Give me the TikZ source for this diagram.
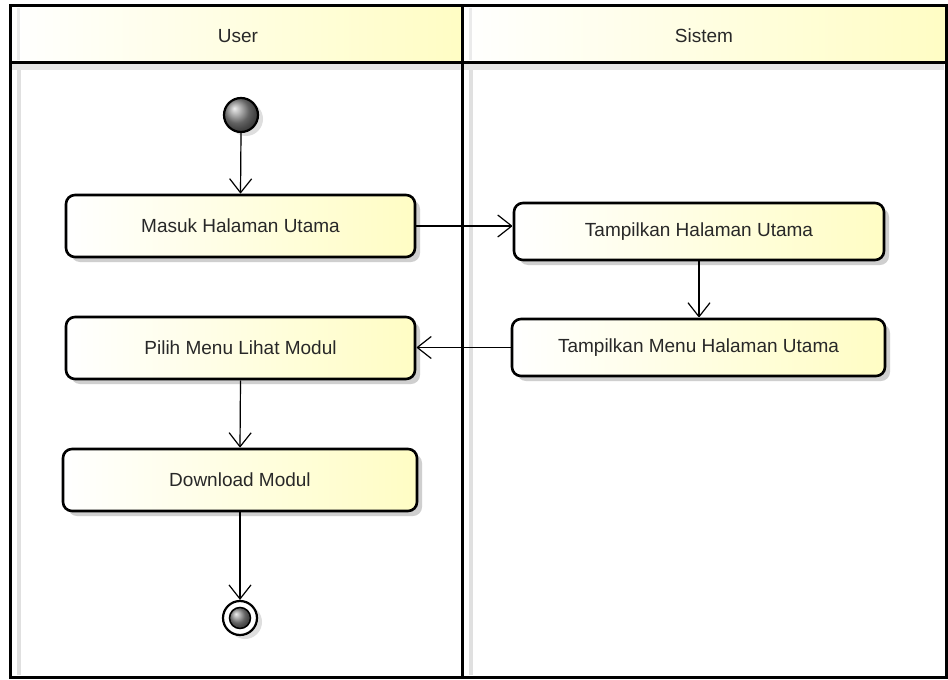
\documentclass[tikz,border=0pt]{standalone}
\usepackage{fontspec}
\setmainfont{Liberation Sans}
\usetikzlibrary{arrows.meta,shadows,calc}
\definecolor{umlyellow}{RGB}{255,253,196}
\definecolor{txtgray}{RGB}{40,40,40}
\tikzset{
  actbox/.style={draw=black, line width=2.6pt, rounded corners=9pt,
    left color=white, right color=umlyellow,
    drop shadow={shadow xshift=5pt, shadow yshift=-5pt, fill=black!25, opacity=0.75},
    font=\fontsize{19}{21}\selectfont, text=txtgray, inner sep=0pt},
  flow/.style={draw=black, line width=1.2pt, -{Straight Barb[length=14pt,width=22pt,line width=1.2pt]}},
  flowshadow/.style={draw=black!14, line width=1.2pt, xshift=4pt, yshift=-4pt},
  lane/.style={draw=black, line width=3pt},
  lanehead/.style={left color=white, right color=umlyellow, draw=none},
  lanelabel/.style={font=\fontsize{19}{21}\selectfont, text=txtgray},
  startnode/.style={circle, draw=black, line width=2.2pt, ball color=black!45, minimum size=34pt, inner sep=0pt,
    drop shadow={shadow xshift=5pt, shadow yshift=-4pt, fill=black!18, opacity=0.7}},
}
\begin{document}
\begin{tikzpicture}[x=1pt,y=-1pt]
\useasboundingbox (0,0) rectangle (948,680);
\fill[white] (0,0) rectangle (948,680);
% lane headers
\shade[lanehead] (10,5) rectangle (462,62);
\shade[lanehead] (462,5) rectangle (946,62);
% frame shadows
\fill[black!12] (17,64) rectangle (21,675);
\fill[black!12] (469,64) rectangle (473,675);
\fill[black!10] (12,64) rectangle (944,70);
\fill[black!8] (17,8) rectangle (20,60);
\fill[black!8] (469,8) rectangle (472,60);
% frame
\draw[lane] (10,5) rectangle (946,677);
\draw[lane] (10,62) -- (946,62);
\draw[lane] (462,5) -- (462,677);
\node[lanelabel] (huser) at (238,36) {User};
\node[lanelabel] (hsis) at (704,36) {Sistem};
% nodes
\node[startnode] (start) at (241,115) {};
\node[actbox, minimum width=349pt, minimum height=62pt] (masuk) at (240.5,226) {Masuk Halaman Utama};
\node[actbox, minimum width=370pt, minimum height=57pt] (tamp1) at (699,231.5) {Tampilkan Halaman Utama};
\node[actbox, minimum width=373pt, minimum height=57pt] (tamp2) at (698.5,347.5) {Tampilkan Menu Halaman Utama};
\node[actbox, minimum width=349pt, minimum height=62pt] (pilih) at (240.5,348) {Pilih Menu Lihat Modul};
\node[actbox, minimum width=354pt, minimum height=62pt] (down) at (240,480) {Download Modul};
% end node
\fill[black!18, opacity=0.7] (245,622) circle (17pt);
\node[circle, draw=black, line width=2.2pt, fill=white, minimum size=34pt, inner sep=0pt] (end) at (240,618) {};
\shade[ball color=black!45] (end.center) circle (10.5pt);
\draw[black, line width=1.5pt] (end.center) circle (10.5pt);
% connector shadows
\path[flowshadow] (start.south) -- (masuk.north);
\path[flowshadow] (masuk.east) -- (masuk.east -| tamp1.west);
\path[flowshadow] (tamp1.south) -- (tamp1.south |- tamp2.north);
\path[flowshadow] (tamp2.west) -- (tamp2.west -| pilih.east);
\path[flowshadow] (pilih.south) -- (down.north);
\path[flowshadow] (down.south) -- (end.north);
% connectors
\draw[flow] (start.south) -- (masuk.north);
\draw[flow] (masuk.east) -- (masuk.east -| tamp1.west);
\draw[flow] (tamp1.south) -- (tamp1.south |- tamp2.north);
\draw[flow] (tamp2.west) -- (tamp2.west -| pilih.east);
\draw[flow] (pilih.south) -- (down.north);
\draw[flow] (down.south) -- (end.north);
\end{tikzpicture}
\end{document}
